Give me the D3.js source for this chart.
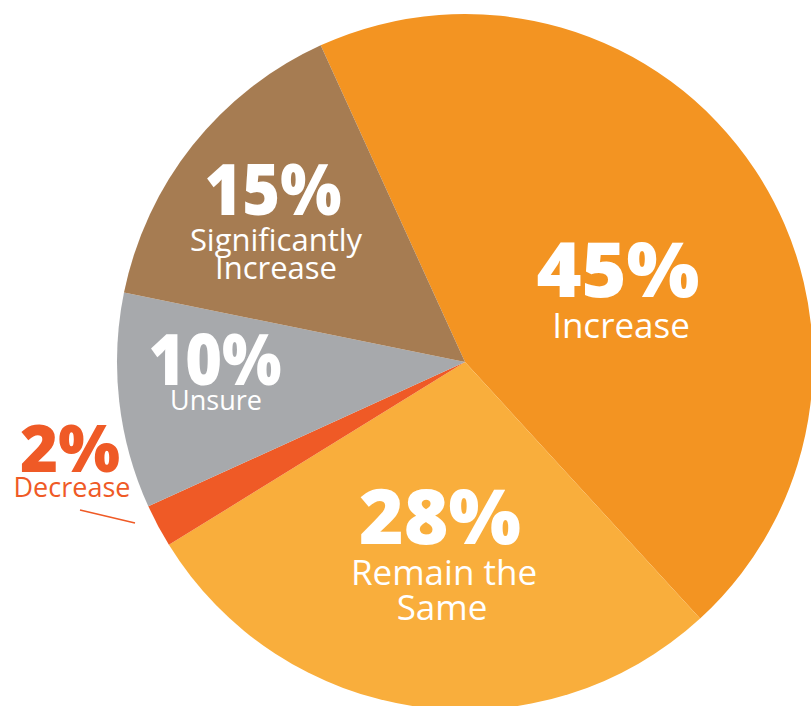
<!DOCTYPE html>
<html><head><meta charset="utf-8">
<script src="https://cdn.jsdelivr.net/npm/d3@7"></script>
<style>
html,body{margin:0;padding:0;background:#fff;}
svg{display:block;}
text{font-family:"Open Sans","Noto Sans",sans-serif;}
</style></head>
<body>
<svg id="chart" width="811" height="706"></svg>
<script>
// Data
const categories = ["Increase", "Remain the Same", "Decrease", "Unsure", "Significantly Increase"];
const values = [45, 28, 2, 10, 15];
const valueLabels = ["45%", "28%", "2%", "10%", "15%"];
const nameLines = [["Increase"], ["Remain the", "Same"], ["Decrease"], ["Unsure"], ["Significantly", "Increase"]];
const colors = ["#F39422", "#F9AE3C", "#EF5A26", "#A7A9AC", "#A67C52"];

// Layout (not data)
const cx = 465, cy = 362, R = 348;
const startDeg = -24.5;
const labelPos = [
  {x: 618, y: 297, big: 76, bigW: 163, small: 35, lines: [{dx: 3, y: 338}], color: "#fff"},
  {x: 440, y: 544, big: 76, bigW: 162, small: 35, lines: [{dx: 4, y: 585}, {dx: 2, y: 620}], color: "#fff"},
  {x: 70,  y: 472, big: 66, bigW: 100, small: 27, lines: [{dx: 2, y: 497}], color: "#EF5A26"},
  {x: 215, y: 385, big: 70, bigW: 133, small: 27, lines: [{dx: 1, y: 410}], color: "#fff"},
  {x: 273, y: 215, big: 70, bigW: 137, small: 31, lines: [{dx: 3, y: 251}, {dx: 3, y: 279}], color: "#fff"}
];
const leader = {x1: 80, y1: 510, x2: 135, y2: 523};

const svg = d3.select("#chart");
const g = svg.append("g").attr("transform", `translate(${cx},${cy})`);

const pie = d3.pie().sort(null).value(d => d)
  .startAngle(startDeg * Math.PI / 180)
  .endAngle((startDeg + 360) * Math.PI / 180);
const arcs = pie(values);
const arc = d3.arc().innerRadius(0).outerRadius(R);

g.selectAll("path.slice").data(arcs).enter().append("path")
  .attr("class", "slice")
  .attr("d", arc)
  .attr("fill", (d, i) => colors[i]);

// leader line for the small Decrease slice
svg.append("line")
  .attr("x1", leader.x1).attr("y1", leader.y1)
  .attr("x2", leader.x2).attr("y2", leader.y2)
  .attr("stroke", colors[2]).attr("stroke-width", 1.5);

const lbl = svg.append("g");
categories.forEach((c, i) => {
  const p = labelPos[i];
  lbl.append("text")
    .attr("x", p.x).attr("y", p.y)
    .attr("text-anchor", "middle")
    .attr("font-weight", 800)
    .attr("font-size", p.big)
    .attr("textLength", p.bigW)
    .attr("lengthAdjust", "spacingAndGlyphs")
    .attr("fill", p.color)
    .text(valueLabels[i]);
  nameLines[i].forEach((ln, k) => {
    lbl.append("text")
      .attr("x", p.x + p.lines[k].dx).attr("y", p.lines[k].y)
      .attr("text-anchor", "middle")
      .attr("font-size", p.small)
      .attr("fill", p.color)
      .text(ln);
  });
});
</script>
</body></html>
